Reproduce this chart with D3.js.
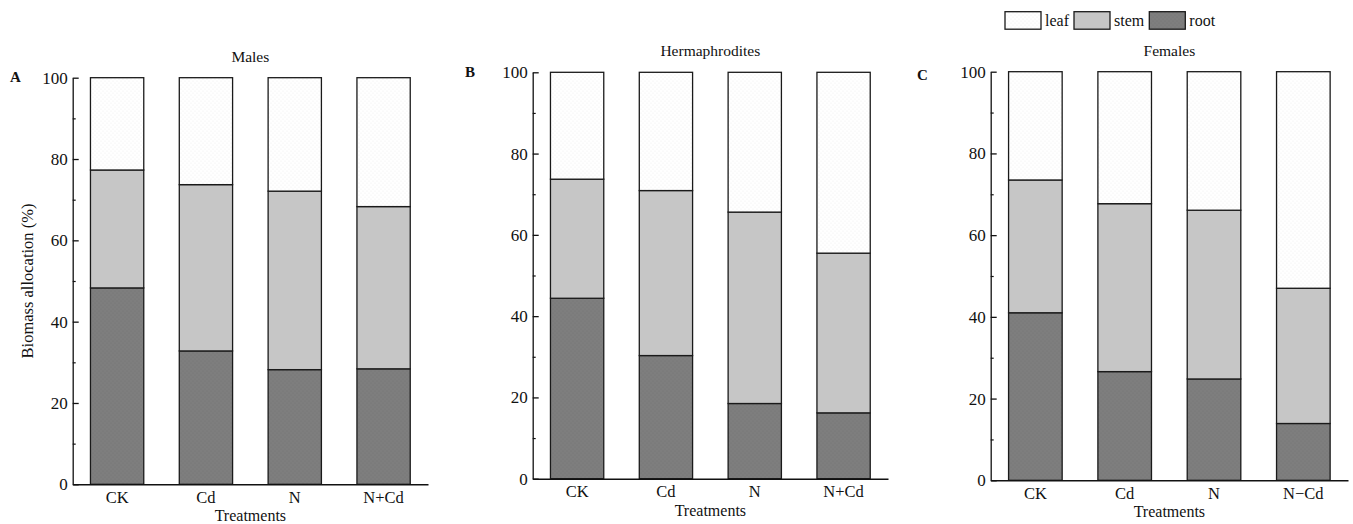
<!DOCTYPE html>
<html>
<head>
<meta charset="utf-8">
<script src="https://cdn.jsdelivr.net/npm/d3@7"></script>
<style>
  html, body { margin: 0; padding: 0; background: #fff; }
  svg { display: block; font-family: "Liberation Serif", "DejaVu Serif", serif; }
</style>
</head>
<body>
<svg id="chart" width="1353" height="524"></svg>
<script>
const treatments = ["CK", "Cd", "N", "N+Cd"];
const treatmentsC = ["CK", "Cd", "N", "N\u2212Cd"];
const parts = ["root", "stem", "leaf"];
const legendOrder = ["leaf", "stem", "root"];
const yTicks = [0, 20, 40, 60, 80, 100];
const yMinorTicks = [10, 30, 50, 70, 90];

// root and stem shares (%); leaf = remainder to 100
const malesRoot = [48.3, 32.8, 28.2, 28.4];
const malesStem = [29.0, 40.9, 43.9, 39.9];
const hermRoot = [44.4, 30.3, 18.5, 16.2];
const hermStem = [29.3, 40.6, 47.1, 39.3];
const femRoot = [41.0, 26.6, 24.8, 13.9];
const femStem = [32.5, 41.1, 41.3, 33.1];

const colors = { leaf: "#ffffff", stem: "#c6c6c6", root: "#7e7e7e" };

function rows(root, stem) {
  return root.map((r, i) => ({ root: r, stem: stem[i], leaf: 100 - r - stem[i] }));
}

const panels = [
  { letter: "A", title: "Males", cats: treatments, data: rows(malesRoot, malesStem),
    x0: 72.7, x1: 428, yTop: 77.7, yBot: 484.3, letterX: 10, letterY: 82, ylabel: true },
  { letter: "B", title: "Hermaphrodites", cats: treatments, data: rows(hermRoot, hermStem),
    x0: 532.7, x1: 888, yTop: 72.3, yBot: 478.7, letterX: 465, letterY: 77, ylabel: false },
  { letter: "C", title: "Females", cats: treatmentsC, data: rows(femRoot, femStem),
    x0: 990.7, x1: 1348, yTop: 71.7, yBot: 480.3, letterX: 917, letterY: 80, ylabel: false }
];

const svg = d3.select("#chart");

// dotted textures
const defs = svg.append("defs");
function dotPattern(id, bg, dot, op) {
  const p = defs.append("pattern").attr("id", id).attr("patternUnits", "userSpaceOnUse")
    .attr("width", 4).attr("height", 4);
  p.append("rect").attr("width", 4).attr("height", 4).attr("fill", bg);
  p.append("circle").attr("cx", 1).attr("cy", 1).attr("r", 0.5).attr("fill", dot).attr("opacity", op);
  p.append("circle").attr("cx", 3).attr("cy", 3).attr("r", 0.5).attr("fill", dot).attr("opacity", op);
}
dotPattern("pat-leaf", colors.leaf, "#bbbbbb", 0.35);
dotPattern("pat-stem", colors.stem, "#c6c6c6", 0);
dotPattern("pat-root", colors.root, "#5a5a5a", 0.35);
const fillOf = k => `url(#pat-${k})`;

const stack = d3.stack().keys(parts);

panels.forEach(p => {
  const g = svg.append("g");
  const x = d3.scaleBand().domain(p.cats).range([p.x0, p.x1]).paddingInner(0.4).paddingOuter(0.2);
  const y = d3.scaleLinear().domain([0, 100]).range([p.yBot, p.yTop]);

  const series = stack(p.data);
  series.forEach(s => {
    g.append("g").selectAll("rect").data(s).join("rect")
      .attr("x", (d, i) => x(p.cats[i]))
      .attr("width", x.bandwidth())
      .attr("y", d => y(d[1]))
      .attr("height", d => y(d[0]) - y(d[1]))
      .attr("fill", fillOf(s.key))
      .attr("stroke", "#1a1a1a")
      .attr("stroke-width", 1.3);
  });

  // Y axis (ticks inward)
  const yAxis = d3.axisRight(y).tickValues(yTicks).tickSize(6).tickFormat("").tickSizeOuter(0);
  const ya = g.append("g").attr("transform", `translate(${p.x0},0)`).call(yAxis);
  ya.select(".domain").attr("stroke", "#111").attr("stroke-width", 1.3);
  ya.selectAll(".tick line").attr("stroke", "#111").attr("stroke-width", 1.3);
  const yMinor = d3.axisRight(y).tickValues(yMinorTicks).tickSize(3).tickFormat("").tickSizeOuter(0);
  const ym = g.append("g").attr("transform", `translate(${p.x0},0)`).call(yMinor);
  ym.select(".domain").remove();
  ym.selectAll(".tick line").attr("stroke", "#111").attr("stroke-width", 1.2);
  // tick labels
  g.append("g").selectAll("text").data(yTicks).join("text")
    .attr("x", p.x0 - 5).attr("y", d => y(d)).attr("dy", "0.35em")
    .attr("text-anchor", "end").attr("font-size", 17).attr("fill", "#111")
    .text(d => d);

  // X axis
  const xAxis = d3.axisBottom(x).tickSize(0).tickSizeOuter(0).tickPadding(7);
  const xa = g.append("g").attr("transform", `translate(0,${p.yBot})`).call(xAxis);
  xa.select(".domain").attr("stroke", "#111").attr("stroke-width", 1.5);
  xa.selectAll(".tick text").attr("font-size", 16.5).attr("fill", "#111")
    .attr("font-family", "Liberation Serif, serif");

  // axis title
  g.append("text").attr("x", (p.x0 + p.x1) / 2).attr("y", p.yBot + 37)
    .attr("text-anchor", "middle").attr("font-size", 16).attr("fill", "#111").text("Treatments");

  // panel title
  g.append("text").attr("x", (p.x0 + p.x1) / 2).attr("y", p.yTop - 16)
    .attr("text-anchor", "middle").attr("font-size", 15.5).attr("fill", "#111").text(p.title);

  // panel letter
  g.append("text").attr("x", p.letterX).attr("y", p.letterY)
    .attr("font-size", 15).attr("font-weight", "bold").attr("fill", "#111").text(p.letter);

  if (p.ylabel) {
    g.append("text")
      .attr("transform", `translate(33,${(p.yTop + p.yBot) / 2}) rotate(-90)`)
      .attr("text-anchor", "middle").attr("font-size", 16.5).attr("fill", "#111")
      .text("Biomass allocation (%)");
  }
});

// Legend
const legendX = [1005, 1074, 1149.3];
const lg = svg.append("g");
legendOrder.forEach((k, i) => {
  lg.append("rect").attr("x", legendX[i]).attr("y", 11.7).attr("width", 36).attr("height", 17.5)
    .attr("fill", fillOf(k)).attr("stroke", "#1a1a1a").attr("stroke-width", 1.3);
  lg.append("text").attr("x", legendX[i] + 40).attr("y", 20.5).attr("dy", "0.35em")
    .attr("font-size", 16).attr("fill", "#111").text(k);
});
</script>
</body>
</html>
